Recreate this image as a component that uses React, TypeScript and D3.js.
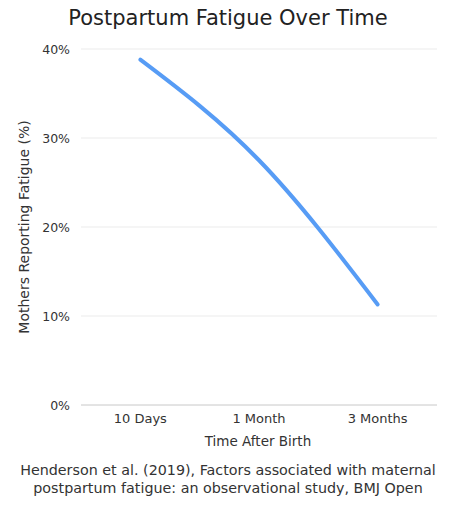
import { useEffect, useRef } from 'react'
import * as d3 from 'd3'

const categories = ['10 Days', '1 Month', '3 Months']
const fatigue = [38.8, 27.5, 11.3]
const yTicks = [0, 10, 20, 30, 40]
const sourceLines = [
  'Henderson et al. (2019), Factors associated with maternal',
  'postpartum fatigue: an observational study, BMJ Open'
]

const W = 453
const H = 508
const FONT = '"DejaVu Sans", sans-serif'

export default function App() {
  const svgRef = useRef<SVGSVGElement>(null)

  useEffect(() => {
    if (!svgRef.current) return
    const svg = d3.select(svgRef.current)
    svg.selectAll('*').remove()

    const left = 81
    const right = 437
    const top = 49
    const bottom = 405

    const x = d3.scalePoint<string>().domain(categories).range([left, right]).padding(0.5)
    const y = d3.scaleLinear().domain([0, 40]).range([bottom, top])

    // title
    svg.append('text')
      .attr('x', 228).attr('y', 25)
      .attr('text-anchor', 'middle')
      .style('font-family', FONT).style('font-size', '21px').style('fill', '#222')
      .text('Postpartum Fatigue Over Time')

    // grid
    svg.append('g').selectAll('line')
      .data(yTicks)
      .enter().append('line')
      .attr('x1', left).attr('x2', right)
      .attr('y1', d => y(d)).attr('y2', d => y(d))
      .attr('stroke', d => d === 0 ? '#c8c8c8' : '#ebebeb')
      .attr('stroke-width', 1)

    svg.append('g').selectAll('text')
      .data(yTicks)
      .enter().append('text')
      .attr('x', 70).attr('y', d => y(d) + 4.5)
      .attr('text-anchor', 'end')
      .style('font-family', FONT).style('font-size', '12.5px').style('fill', '#333')
      .text(d => `${d}%`)

    svg.append('g').selectAll('text')
      .data(categories)
      .enter().append('text')
      .attr('x', d => x(d) ?? 0).attr('y', 423)
      .attr('text-anchor', 'middle')
      .style('font-family', FONT).style('font-size', '13px').style('fill', '#333')
      .text(d => d)

    svg.append('text')
      .attr('x', 258).attr('y', 446)
      .attr('text-anchor', 'middle')
      .style('font-family', FONT).style('font-size', '13.5px').style('fill', '#333')
      .text('Time After Birth')

    svg.append('text')
      .attr('transform', `translate(29, ${(top + bottom) / 2}) rotate(-90)`)
      .attr('text-anchor', 'middle')
      .style('font-family', FONT).style('font-size', '14px').style('fill', '#333')
      .text('Mothers Reporting Fatigue (%)')

    // line
    const line = d3.line<number>()
      .x((_, i) => x(categories[i]) ?? 0)
      .y(d => y(d))
      .curve(d3.curveMonotoneX)

    svg.append('path')
      .datum(fatigue)
      .attr('d', line)
      .attr('fill', 'none')
      .attr('stroke', '#579cf5')
      .attr('stroke-width', 4)
      .attr('stroke-linecap', 'round')

    // source
    svg.append('g').selectAll('text')
      .data(sourceLines)
      .enter().append('text')
      .attr('x', 228).attr('y', (_, i) => 475 + i * 18)
      .attr('text-anchor', 'middle')
      .style('font-family', FONT).style('font-size', '14.3px').style('fill', '#333')
      .text(d => d)
  }, [])

  return <svg ref={svgRef} width={W} height={H} style={{ position: 'absolute', left: 0, top: 0, background: '#fff' }} />
}
